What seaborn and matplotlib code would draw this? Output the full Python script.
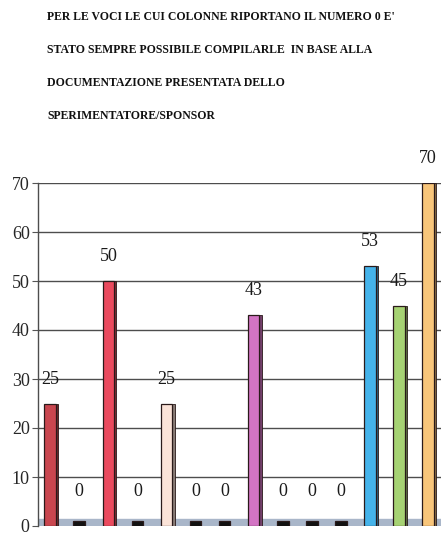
import matplotlib
matplotlib.use("Agg")
import matplotlib.pyplot as plt
import matplotlib.colors as mcolors
import seaborn as sns
import pandas as pd
import numpy as np

values = [25, 0, 50, 0, 25, 0, 0, 43, 0, 0, 0, 53, 45, 70]
categories = [f"C{i+1}" for i in range(len(values))]
colors = ["#c9464f", "#111111", "#ea4a5e", "#111111", "#fbe3d8", "#111111", "#111111",
          "#d374c4", "#111111", "#111111", "#111111", "#45b3ea", "#a6d273", "#f8c57a"]
yticks = [0, 10, 20, 30, 40, 50, 60, 70]
title_lines = ["PER LE VOCI LE CUI COLONNE RIPORTANO IL NUMERO 0 E'",
               "STATO SEMPRE POSSIBILE COMPILARLE  IN BASE ALLA",
               "DOCUMENTAZIONE PRESENTATA DELLO",
               "SPERIMENTATORE/SPONSOR"]

sns.set_theme(style="white")
plt.rcParams['font.family'] = ['Liberation Serif', 'DejaVu Serif']

fig = plt.figure(figsize=(4.41, 5.36), dpi=100)
ax = fig.add_axes([38/441, 10/536, (441-38)/441 + 0.02, (526-183)/536])

df = pd.DataFrame({"cat": categories, "val": values})
df["plot"] = [v if v > 0 else 1.0 for v in values]

sns.barplot(data=df, x="cat", y="plot", hue="cat", palette=colors, legend=False,
            saturation=1, width=0.40, errorbar=None,
            edgecolor="#2a1a1a", linewidth=0.9, ax=ax, zorder=3)

bars = [b for cont in ax.containers for b in cont]
bars.sort(key=lambda b: b.get_x())

# depth: darker right side face of each bar
for p, c, v in zip(bars, colors, values):
    if v <= 0:
        continue
    x0 = p.get_x(); w = p.get_width(); h = p.get_height()
    dark = np.array(mcolors.to_rgb(c)) * 0.55
    ax.bar(x0 + w, h, width=0.08, bottom=0, align="edge",
           color=dark, edgecolor="#2a1a1a", linewidth=0.6, zorder=2)

# floor
ax.axhspan(-1.0, 1.4, color="#a9b6c9", zorder=0)

for i, v in enumerate(values):
    if v > 0:
        ax.text(i, v + 5, str(v), ha="center", va="center", fontsize=13,
                color="#1a1a1a", zorder=5, clip_on=False)
    else:
        ax.text(i, 7, "0", ha="center", va="center", fontsize=13,
                color="#1a1a1a", zorder=5)

for y in yticks[1:]:
    ax.axhline(y, color="#4d4d4d", linewidth=1.0, zorder=1)

ax.set_xlim(-0.42, 13.75)
ax.set_ylim(0, 70)
ax.set_yticks(yticks)
ax.set_yticklabels([str(t) for t in yticks], fontsize=13)
ax.tick_params(axis="y", length=4, width=0.8, color="#555555", pad=2, direction="out", left=True)
ax.set_xticks([])
ax.set_xlabel("")
ax.set_ylabel("")
for s in ["top", "right", "bottom"]:
    ax.spines[s].set_visible(False)
ax.spines["left"].set_color("#4d4d4d")
ax.spines["left"].set_linewidth(1.0)

ys = [17, 50, 83, 116]
for line, y in zip(title_lines, ys):
    fig.text(47/441, 1 - y/536, line, fontsize=8.5, fontweight="bold",
             ha="left", va="center", color="#111111")

fig.savefig("out.png", dpi=100)
